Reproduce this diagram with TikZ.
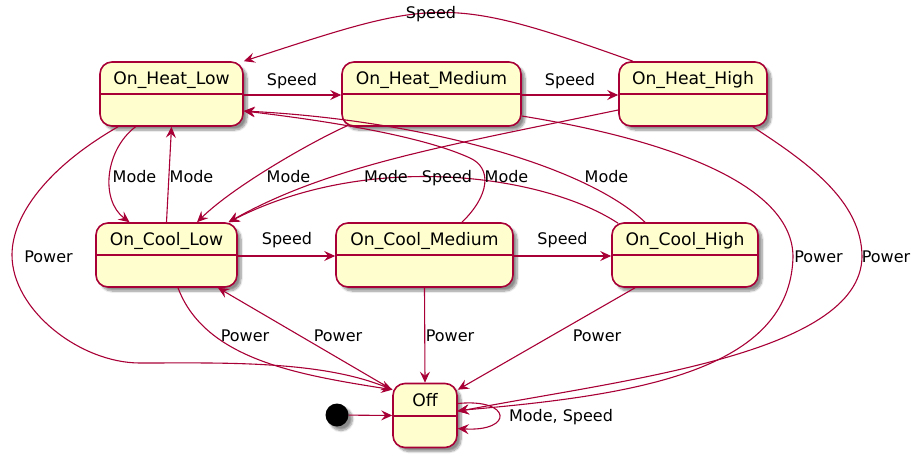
\documentclass[tikz,border=0pt]{standalone}
\usepackage{fontspec}
\setmainfont{DejaVu Sans}
\usetikzlibrary{calc,arrows.meta,shadows.blur}
\definecolor{stfill}{HTML}{FEFECE}
\definecolor{stline}{HTML}{A80036}

\tikzset{
  state/.style={draw=stline, fill=stfill, line width=1.6pt, rounded corners=12pt,
    minimum height=64pt, inner sep=0pt,
    blur shadow={shadow xshift=4pt, shadow yshift=-4pt, shadow blur steps=8, shadow opacity=45}},
  sname/.style={anchor=base, inner sep=0pt, font=\fontsize{17.2}{20}\selectfont},
  lbl/.style={anchor=base, inner sep=0pt, font=\fontsize{16}{19}\selectfont},
  tr/.style={draw=stline, line width=1.1pt, -{Stealth[length=11pt,width=10pt,inset=4pt]}}
}

\begin{document}
\begin{tikzpicture}[x=1pt,y=-1pt]
\useasboundingbox (0,0) rectangle (912,455);

% States: name/x/y/width/title
\foreach \n/\x/\y/\w/\t in {hl/171.5/94/143/On\_Heat\_Low, hm/431.5/94/179/On\_Heat\_Medium,
    hh/693/94/148/On\_Heat\_High, cl/166.5/255/141/On\_Cool\_Low,
    cm/424.5/255/177/On\_Cool\_Medium, ch/685/255/146/On\_Cool\_High, off/425/415.5/64/Off} {
  \node[state, minimum width=\w pt] (\n) at (\x,\y) {};
  \draw[stline, line width=1.6pt] ($(\n.north west)+(0,33)$) -- ($(\n.north east)+(0,33)$);
  \node[sname] (\n-t) at ($(\n.north)+(0,23.5)$) {\t};
}
\node[circle, fill=black, minimum size=23pt, inner sep=0pt,
  blur shadow={shadow xshift=4pt, shadow yshift=-4pt, shadow blur steps=8, shadow opacity=45}] (init) at (337,415) {};

% Speed, heating
\draw[tr] ([yshift=-1pt]hl.east) -- ([yshift=-1pt]hm.west) node[lbl] (sp1) at (292,85) {Speed};
\draw[tr] ([yshift=-1pt]hm.east) -- ([yshift=-1pt]hh.west) node[lbl] (sp2) at (570,85) {Speed};
\draw[tr] ([xshift=-60pt]hh.north) .. controls (445,-6) and (435,-1) .. (hl.north east)
  node[lbl] (sp3) at (431,18.5) {Speed};

% Speed, cooling
\draw[tr] ([yshift=-1pt]cl.east) -- ([yshift=-1pt]cm.west) node[lbl] (sp4) at (287,244.5) {Speed};
\draw[tr] ([yshift=-1pt]cm.east) -- ([yshift=-1pt]ch.west) node[lbl] (sp5) at (562.5,244.5) {Speed};
\draw[tr] ([xshift=-67pt,yshift=-1pt]ch.north) .. controls (545,175) and (370,150) .. ([xshift=62pt]cl.north)
  node[lbl] (sp6) at (447,182) {Speed};

% Mode
\draw[tr] ([xshift=-36pt]hl.south) .. controls (105,150) and (100,200) .. ([xshift=-37pt]cl.north)
  node[lbl] (md1) at (134.5,182) {Mode};
\draw[tr] (cl.north) -- (hl.south) node[lbl] (md2) at (191.5,182) {Mode};
\draw[tr] ([xshift=6pt,yshift=1pt]hm.south west) .. controls (315,140) and (235,185) .. ([xshift=30.5pt]cl.north)
  node[lbl] (md3) at (288.5,182) {Mode};
\draw[tr] ([yshift=-16pt]hh.west) .. controls (450,145) and (330,165) .. ([xshift=62pt]cl.north)
  node[lbl] (md4) at (386,182) {Mode};
\draw[tr] ([xshift=37.5pt]cm.north) .. controls (490,195) and (492,168) .. (470,158)
  .. controls (420,135) and (320,120) .. ([yshift=-17pt]hl.east)
  node[lbl] (md5) at (506.5,182) {Mode};
\draw[tr] ([xshift=-40pt]ch.north) .. controls (585,165) and (420,120) .. ([yshift=-17pt]hl.east)
  node[lbl] (md6) at (606.5,182) {Mode};

% Power
\draw[tr] ([xshift=-53.5pt]hl.south) .. controls (48,167) and (12,215) .. (12,255)
  .. controls (12,310) and (80,363) .. (140,363)
  .. controls (220,363) and (320,360) .. ([yshift=-7pt]off.north west)
  node[lbl] (pw1) at (48.5,262) {Power};
\draw[tr] ([xshift=11.5pt]cl.south) .. controls (205,360) and (300,375) .. ([yshift=-7pt]off.north west)
  node[lbl] (pw2) at (245,341.5) {Power};
\draw[tr] ([yshift=-7pt]off.north west) -- ([xshift=51.5pt]cl.south) node[lbl] (pw3) at (338,341.5) {Power};
\draw[tr] (cm.south) -- (off.north) node[lbl] (pw4) at (450,341.5) {Power};
\draw[tr] ([xshift=-50pt]ch.south) -- ([yshift=-7pt]off.north east) node[lbl] (pw5) at (597,341.5) {Power};
\draw[tr] ([yshift=-22pt]hm.east) .. controls (670,140) and (793,185) .. (793,257)
  .. controls (790,370) and (640,395) .. ([yshift=5pt]off.east)
  node[lbl] (pw6) at (818.5,262) {Power};
\draw[tr] ([xshift=-15pt]hh.south east) .. controls (805,161) and (862,200) .. (862,257)
  .. controls (860,355) and (620,380) .. ([yshift=4pt]off.east)
  node[lbl] (pw7) at (886,262) {Power};

% Off
\draw[tr] ([yshift=12pt]off.east) .. controls (512,398) and (514,432) .. ([yshift=-13pt]off.east)
  node[lbl] (ms) at (561,421.5) {Mode, Speed};
\draw[tr] (init) -- (off.west);

\end{tikzpicture}
\end{document}
